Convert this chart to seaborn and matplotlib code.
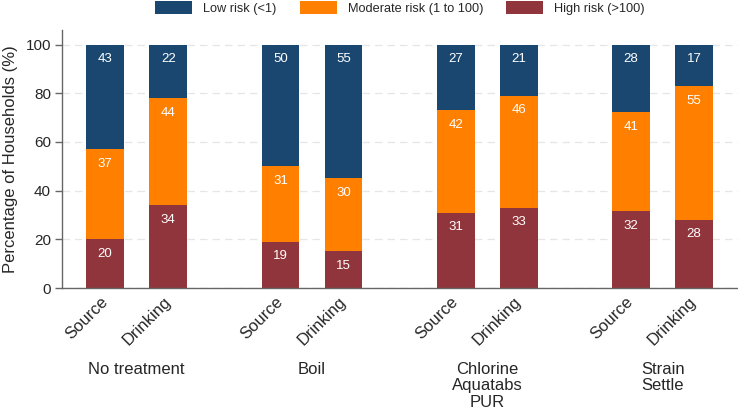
import numpy as np
import pandas as pd
import matplotlib
matplotlib.use("Agg")
import matplotlib.pyplot as plt
import matplotlib.transforms as mtransforms
from matplotlib.patches import Patch
import seaborn as sns

# ---- data ----
groups = ["No treatment", "Boil", "Chlorine\nAquatabs\nPUR", "Strain\nSettle"]
samples = ["Source", "Drinking"]
high = [20, 34, 19, 15, 31, 33, 31.6, 28]        # High risk (>100)
moderate = [37, 44, 31, 30, 42, 46, 40.6, 55]    # Moderate risk (1 to 100)
low = [43, 22, 50, 55, 27, 21, 27.8, 17]         # Low risk (<1)
risk_labels = ["Low risk (<1)", "Moderate risk (1 to 100)", "High risk (>100)"]
yticks = [0, 20, 40, 60, 80, 100]
ylabel = "Percentage of Households (%)"

colors = {"low": "#1a476f", "moderate": "#ff7f00", "high": "#90353b"}

df = pd.DataFrame({
    "group": np.repeat(groups, len(samples)),
    "sample": samples * len(groups),
    "high": high,
    "moderate": moderate,
    "low": low,
})
df["cum_high"] = df["high"]
df["cum_mod"] = df["high"] + df["moderate"]
df["cum_low"] = df["high"] + df["moderate"] + df["low"]

sns.set_theme(style="white")
plt.rcParams["font.family"] = ["Liberation Sans", "DejaVu Sans"]

W, H = 738, 411
fig = plt.figure(figsize=(W / 100, H / 100), dpi=100)
ax = fig.add_axes([62 / W, (H - 288) / H, (W - 62) / W, (288 - 30) / H])

layers = [("cum_low", "low"), ("cum_mod", "moderate"), ("cum_high", "high")]
centers = {}
for cum_col, seg in layers:
    n_before = len(ax.containers)
    sns.barplot(data=df, x="group", y=cum_col, hue="sample", order=groups,
                hue_order=samples, palette={s: colors[seg] for s in samples},
                dodge=True, width=0.72, gap=0.405, saturation=1,
                legend=False, linewidth=0, ax=ax)
    for si, cont in enumerate(ax.containers[n_before:]):
        for gi, bar in enumerate(cont.patches):
            row = df[(df["group"] == groups[gi]) & (df["sample"] == samples[si])].iloc[0]
            xc = bar.get_x() + bar.get_width() / 2
            centers[(gi, si)] = xc
            top = bar.get_y() + bar.get_height()
            ax.annotate(f"{row[seg]:.0f}", (xc, min(top, 100)), xytext=(0, -10.5),
                        textcoords="offset points", ha="center", va="center",
                        color="white", fontsize=9.5)

ax.set_ylim(0, 106)
ax.set_xlim(-0.426, 3.43)
ax.set_yticks(yticks)
ax.set_yticklabels([str(t) for t in yticks], fontsize=11)
ax.set_ylabel(ylabel, fontsize=12, labelpad=5)
ax.set_xlabel("")

tick_pos = [centers[(gi, si)] for gi in range(len(groups)) for si in range(len(samples))]
ax.set_xticks(tick_pos)
ax.set_xticklabels(samples * len(groups), rotation=45, ha="right", va="center",
                   rotation_mode="anchor", fontsize=12)
ax.tick_params(axis="x", length=0, pad=8)
ax.tick_params(axis="y", length=5, width=1, color="#666666", pad=3, left=True)

ax.yaxis.grid(True, linestyle=(0, (6, 4)), color="#e6e6e6", linewidth=0.9)
ax.set_axisbelow(True)
sns.despine(ax=ax, top=True, right=True)
for s in ["left", "bottom"]:
    ax.spines[s].set_color("#666666")
    ax.spines[s].set_linewidth(1)

trans = mtransforms.blended_transform_factory(ax.transData, ax.transAxes)
for gi, g in enumerate(groups):
    ax.text(gi, -0.287, g, transform=trans, ha="center", va="top",
            fontsize=12, linespacing=1.12)

handles = [Patch(facecolor=colors[k], edgecolor="none") for k in ["low", "moderate", "high"]]
fig.legend(handles, risk_labels, loc="upper center", bbox_to_anchor=(400 / W, 1 - 1 / H),
           ncol=3, frameon=False, fontsize=9.2, handlelength=2.9, handleheight=1.18,
           handletextpad=0.87, columnspacing=1.8, borderpad=0, borderaxespad=0)

fig.savefig("out.png", dpi=100)
